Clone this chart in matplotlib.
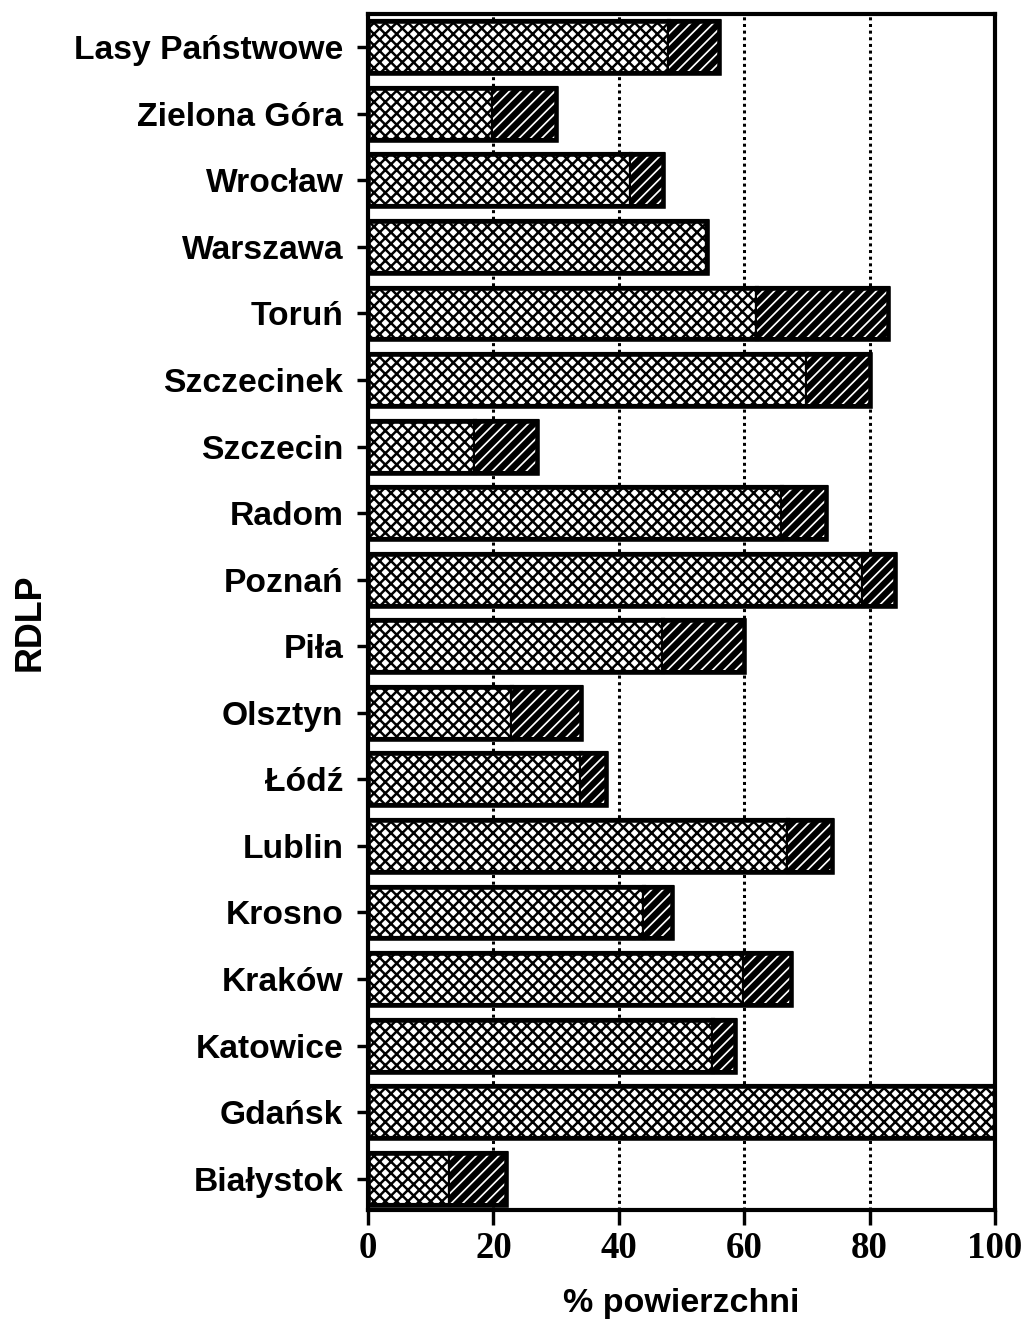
import matplotlib
matplotlib.use("Agg")
import matplotlib.pyplot as plt
import numpy as np

categories = ["Białystok", "Gdańsk", "Katowice", "Kraków", "Krosno", "Lublin",
              "Łódź", "Olsztyn", "Piła", "Poznań", "Radom", "Szczecin",
              "Szczecinek", "Toruń", "Warszawa", "Wrocław", "Zielona Góra",
              "Lasy Państwowe"]
part1 = [13, 100, 55, 60, 44, 67, 34, 23, 47, 79, 66, 17, 70, 62, 54, 42, 20, 48]
part2 = [9, 0, 3.5, 7.5, 4.5, 7, 4, 11, 13, 5, 7, 10, 10, 21, 0, 5, 10, 8]
xticks = [0, 20, 40, 60, 80, 100]

DPI = 136
plt.rcParams['hatch.linewidth'] = 1.3
fig = plt.figure(figsize=(1021 / DPI, 1327 / DPI), dpi=DPI)
ax = fig.add_axes([368 / 1021, 1 - 1210 / 1327, (995 - 368) / 1021, (1210 - 14) / 1327])

y = np.arange(len(categories))
ax.barh(y, part1, height=0.78, color="white", edgecolor="black", hatch="xxxx",
        linewidth=2.2, zorder=3)
ax.barh(y, part2, left=part1, height=0.78, color="black", edgecolor="black",
        linewidth=2.2, zorder=3)
# white hatch on black segments
stripes = ax.barh(y, part2, left=part1, height=0.72, color="none", edgecolor="white",
                  hatch="////", linewidth=0, zorder=4)
for p in stripes:
    if hasattr(p, "set_hatch_linewidth"):
        p.set_hatch_linewidth(0.9)
# outline
ax.barh(y, [a + b for a, b in zip(part1, part2)], height=0.78, color="none",
        edgecolor="black", linewidth=2.4, zorder=5)

ax.set_xlim(0, 100)
ax.set_ylim(-0.47, 17.5)
ax.set_yticks(y)
ax.set_yticklabels(categories, fontsize=17.8, fontweight="bold",
                   family="Liberation Sans")
ax.set_xticks(xticks)
ax.set_xticklabels([str(t) for t in xticks], fontsize=19.5, fontweight="bold",
                   family="Liberation Serif")
ax.tick_params(axis="y", length=6, width=1.8, pad=7)
ax.tick_params(axis="x", length=8, width=1.8, pad=3)

for gx in xticks[1:-1]:
    ax.axvline(gx, color="black", linestyle=(0, (1, 1.2)), linewidth=1.6, zorder=1)

for s in ax.spines.values():
    s.set_linewidth(2.2)

ax.set_xlabel("% powierzchni", fontsize=18, fontweight="bold",
              family="Liberation Sans", labelpad=12)
fig.text(30 / 1021, 1 - 622 / 1327, "RDLP", rotation=90, fontsize=19,
         fontweight="bold", family="Liberation Sans", ha="center", va="center")

fig.savefig("out.png", dpi=DPI, facecolor="white")
